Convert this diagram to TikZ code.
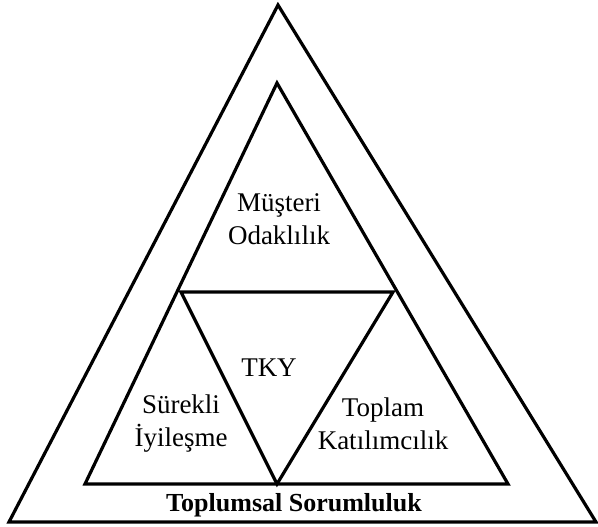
\documentclass[tikz,border=0pt]{standalone}
\usepackage{fontspec}
\setmainfont{Liberation Serif}
\begin{document}
\begin{tikzpicture}[x=1pt,y=-1pt,
  edge/.style={draw=black,line width=3.2pt,line join=miter},
  label/.style={font=\fontsize{27}{33}\selectfont,align=center,inner sep=0pt},
  caption/.style={font=\fontsize{26}{31}\selectfont\bfseries,inner sep=0pt}]
  \useasboundingbox (0,0) rectangle (598,527);
  % outer triangle
  \coordinate (oA) at (278,5);
  \coordinate (oL) at (9,522);
  \coordinate (oR) at (596,522);
  % inner triangle
  \coordinate (iA) at (277,83);
  \coordinate (iL) at (85,484);
  \coordinate (iR) at (508,484);
  % inverted central triangle
  \coordinate (vL) at (181,292);
  \coordinate (vR) at (393,292);
  \coordinate (vB) at (277,484);
  \draw[edge] (oA) -- (oL) -- (oR) -- cycle;
  \draw[edge] (iA) -- (iL) -- (iR) -- cycle;
  \draw[edge] (vL) -- (vR) -- (vB) -- cycle;
  % texts
  \node[label] (must) at (279,219) {Müşteri\\Odaklılık};
  \node[label] (tky) at (269,368) {TKY};
  \node[label] (sur) at (181,424) {Sürekli\\İyileşme};
  \node[label] (top) at (383,424) {Toplam\\Katılımcılık};
  \node[caption,anchor=base] (soc) at (294,511) {Toplumsal Sorumluluk};
\end{tikzpicture}
\end{document}
